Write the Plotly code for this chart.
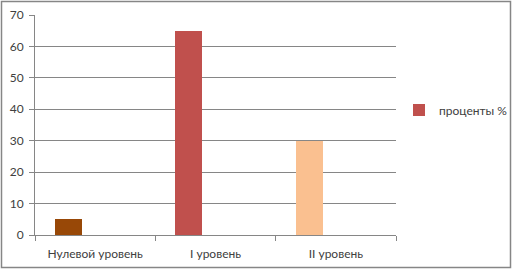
import plotly.graph_objects as go

categories = ["Нулевой уровень", "I уровень", "II уровень"]
values = [5, 65, 30]
colors = ["#984807", "#C0504D", "#FAC090"]
series_name = "проценты %"
y_ticks = [0, 10, 20, 30, 40, 50, 60, 70]

W, H = 512, 270
L, R, T, B = 35, 116, 15, 35
pw, ph = W - L - R, H - T - B

fig = go.Figure()
for i, (c, v, col) in enumerate(zip(categories, values, colors)):
    fig.add_trace(go.Bar(
        x=[c], y=[v], name=series_name,
        marker=dict(color=col, line=dict(width=0)),
        width=0.225, offset=-0.334,
        showlegend=(i == 1), legendgroup="g",
    ))

font = dict(family="Lato, Open Sans, sans-serif", size=12, color="#404040")
fig.update_layout(
    width=W, height=H,
    margin=dict(l=L, r=R, t=T, b=B, autoexpand=False),
    paper_bgcolor="white", plot_bgcolor="white",
    font=font,
    bargap=0,
    legend=dict(xref="container", yref="container", x=399 / W, y=1 - 110 / H,
                xanchor="left", yanchor="middle",
                font=dict(size=12, color="#404040"), bgcolor="rgba(0,0,0,0)",
                itemwidth=30, tracegroupgap=0),
    xaxis=dict(categoryorder="array", categoryarray=categories, tickson="boundaries",
               ticks="outside", ticklen=5, tickcolor="#868686", showline=True,
               linecolor="#868686", linewidth=1, showgrid=False, fixedrange=True,
               range=[-0.5, 2.5], automargin=False, ticklabelstandoff=8),
    yaxis=dict(range=[0, 70], tickvals=y_ticks, ticks="outside", ticklen=5,
               tickcolor="#868686", showline=True, linecolor="#868686", linewidth=1,
               gridcolor="#868686", gridwidth=1, zeroline=False, fixedrange=True,
               automargin=False, ticklabelstandoff=3),
    shapes=[dict(type="rect", xref="paper", yref="paper",
                 x0=(1.5 - L) / pw, x1=(510.5 - L) / pw,
                 y0=(H - B - 267.5) / ph, y1=(H - B - 1.5) / ph,
                 line=dict(color="#868686", width=1.5), fillcolor="rgba(0,0,0,0)", layer="below")],
)
fig.write_html("out.html", config={"displayModeBar": False},
               post_script="document.body.style.margin='0';")
